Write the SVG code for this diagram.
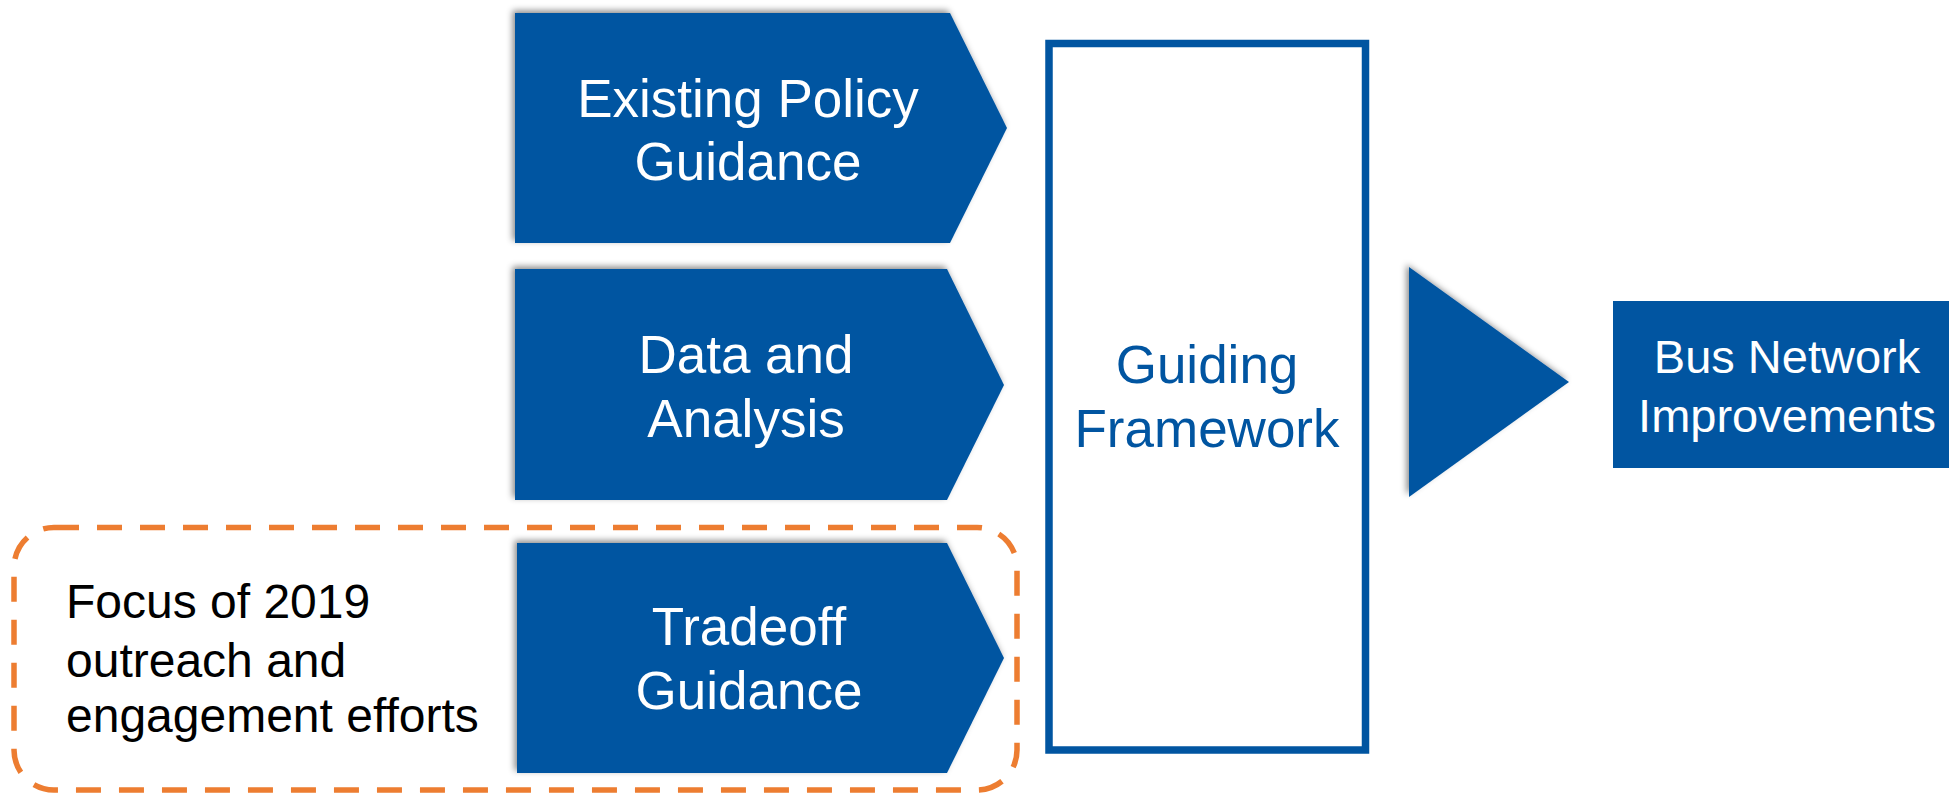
<svg xmlns="http://www.w3.org/2000/svg" width="1949" height="796" viewBox="0 0 1949 796">
  <defs>
    <filter id="shadow" x="-10%" y="-10%" width="120%" height="120%">
      <feDropShadow dx="-2.5" dy="-2.5" stdDeviation="3" flood-color="#000" flood-opacity="0.45"/>
    </filter>
  </defs>
  <style>
    .blue { fill: #0155A1; }
    .chev { fill: #0155A1; filter: url(#shadow); }
    .wt { fill: #ffffff; font-family: "Liberation Sans", Arial, sans-serif; font-size: 53px; text-anchor: middle; }
    .bt { fill: #0155A1; font-family: "Liberation Sans", Arial, sans-serif; font-size: 53px; text-anchor: middle; }
    .bus { fill: #ffffff; font-family: "Liberation Sans", Arial, sans-serif; font-size: 47px; text-anchor: middle; }
    .note { fill: #000000; font-family: "Liberation Sans", Arial, sans-serif; font-size: 48px; }
  </style>
  <rect width="1949" height="796" fill="#ffffff"/>

  <g id="focus-area">
    <rect x="14" y="527.5" width="1003" height="262.5" rx="40" ry="40" fill="none" stroke="#ED7D31" stroke-width="5.5" stroke-dasharray="25 18"/>
    <text class="note" x="66" y="618">Focus of 2019</text>
    <text class="note" x="66" y="677">outreach and</text>
    <text class="note" x="66" y="732">engagement efforts</text>
  </g>

  <g id="existing-policy">
    <polygon class="chev" points="515,13 950,13 1007,128 950,243 515,243"/>
    <text class="wt" x="748" y="117">Existing Policy</text>
    <text class="wt" x="748" y="180">Guidance</text>
  </g>

  <g id="data-analysis">
    <polygon class="chev" points="515,269 947,269 1004,385 947,500 515,500"/>
    <text class="wt" x="746" y="373">Data and</text>
    <text class="wt" x="746" y="437">Analysis</text>
  </g>

  <g id="tradeoff">
    <polygon class="chev" points="517,543 947,543 1004,658 947,773 517,773"/>
    <text class="wt" x="749" y="645">Tradeoff</text>
    <text class="wt" x="749" y="709">Guidance</text>
  </g>

  <g id="guiding-framework">
    <rect x="1049" y="43.5" width="316.5" height="706.5" fill="#ffffff" stroke="#0155A1" stroke-width="7.5"/>
    <text class="bt" x="1207" y="383">Guiding</text>
    <text class="bt" x="1207" y="447">Framework</text>
  </g>

  <g id="connectors">
    <polygon class="chev" points="1409,267 1569,382 1409,497"/>
  </g>

  <g id="bus-network">
    <rect class="blue" x="1613" y="301" width="340" height="167"/>
    <text class="bus" x="1787" y="373">Bus Network</text>
    <text class="bus" x="1787" y="432">Improvements</text>
  </g>
</svg>
